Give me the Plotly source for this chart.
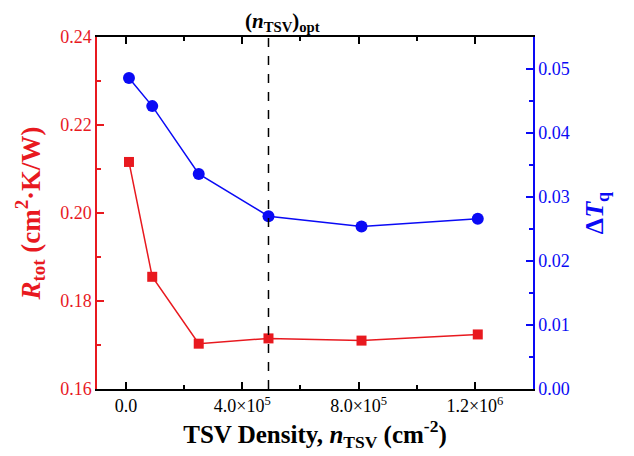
import plotly.graph_objects as go

n_tsv = [1e4, 9e4, 2.5e5, 4.9e5, 8.1e5, 1.21e6]
r_tot = [0.2116, 0.1855, 0.1703, 0.1715, 0.1710, 0.1724]
delta_tq = [0.0486, 0.0442, 0.0336, 0.0270, 0.0254, 0.0266]
n_opt = 4.9e5
x_tickvals = [0, 4e5, 8e5, 1.2e6]
x_ticktext = ["0.0", "4.0×10<sup>5</sup>", "8.0×10<sup>5</sup>", "1.2×10<sup>6</sup>"]

RED = "#e8191f"
BLUE = "#0a0af5"
FONT = "Liberation Serif"

fig = go.Figure()
fig.add_trace(go.Scatter(x=n_tsv, y=r_tot, mode="lines+markers",
                         line=dict(color=RED, width=1.5),
                         marker=dict(symbol="square", size=10, color=RED),
                         yaxis="y", showlegend=False))
fig.add_trace(go.Scatter(x=n_tsv, y=delta_tq, mode="lines+markers",
                         line=dict(color=BLUE, width=1.5),
                         marker=dict(symbol="circle", size=12, color=BLUE),
                         yaxis="y2", showlegend=False))

fig.add_shape(type="line", x0=n_opt, x1=n_opt, y0=0, y1=1, xref="x", yref="paper",
              line=dict(color="black", width=1.5, dash="dash"))

fig.add_annotation(x=n_opt, y=1, xref="x", yref="paper", yshift=0, xshift=14, yanchor="bottom",
                   text="<b>(<i>n</i><sub>TSV</sub>)<sub>opt</sub></b>", showarrow=False,
                   font=dict(family=FONT, size=21, color="black"))

fig.update_layout(
    width=626, height=448,
    margin=dict(l=89, r=101, t=29, b=67, autoexpand=False),
    paper_bgcolor="white", plot_bgcolor="white",
    font=dict(family=FONT, size=18, color="black"),
    xaxis=dict(range=[-1e5, 1.4e6], tickvals=x_tickvals, ticktext=x_ticktext,
               ticks="inside", ticklen=7, tickwidth=1.5, tickcolor="black",
               minor=dict(tickvals=[2e5, 6e5, 1e6], ticks="inside", ticklen=4, tickwidth=1.5, tickcolor="black"),
               showline=True, linecolor="black", linewidth=1.5, mirror="ticks",
               showgrid=False, zeroline=False,
               tickfont=dict(family=FONT, size=18, color="black"),
               title=dict(text="<b>TSV Density, <i>n</i><sub>TSV</sub> (cm<sup>-2</sup>)</b>",
                          font=dict(family=FONT, size=25, color="black"), standoff=10)),
    yaxis=dict(range=[0.16, 0.24], tickvals=[0.16, 0.18, 0.20, 0.22, 0.24], tickformat=".2f",
               ticks="inside", ticklen=7, tickwidth=1.5, tickcolor=RED,
               minor=dict(dtick=0.01, ticks="inside", ticklen=4, tickwidth=1.5, tickcolor=RED),
               showline=True, linecolor=RED, linewidth=1.5,
               showgrid=False, zeroline=False,
               tickfont=dict(family=FONT, size=18, color=RED),
               title=dict(text="<b><i>R</i><sub>tot</sub> (cm<sup>2</sup>·K/W)</b>",
                          font=dict(family=FONT, size=27, color=RED), standoff=12)),
    yaxis2=dict(range=[0, 0.055], overlaying="y", side="right",
                tickvals=[0, 0.01, 0.02, 0.03, 0.04, 0.05], tickformat=".2f",
                ticks="inside", ticklen=7, tickwidth=1.5, tickcolor=BLUE,
                minor=dict(tickvals=[0.005, 0.015, 0.025, 0.035, 0.045], ticks="inside", ticklen=4, tickwidth=1.5, tickcolor=BLUE),
                showline=True, linecolor=BLUE, linewidth=1.5,
                showgrid=False, zeroline=False,
                tickfont=dict(family=FONT, size=18, color=BLUE),
                title=dict(text="<b>Δ<i>T</i><sub>q</sub></b>",
                           font=dict(family=FONT, size=26, color=BLUE), standoff=16)),
)

fig.write_html("out.html")
